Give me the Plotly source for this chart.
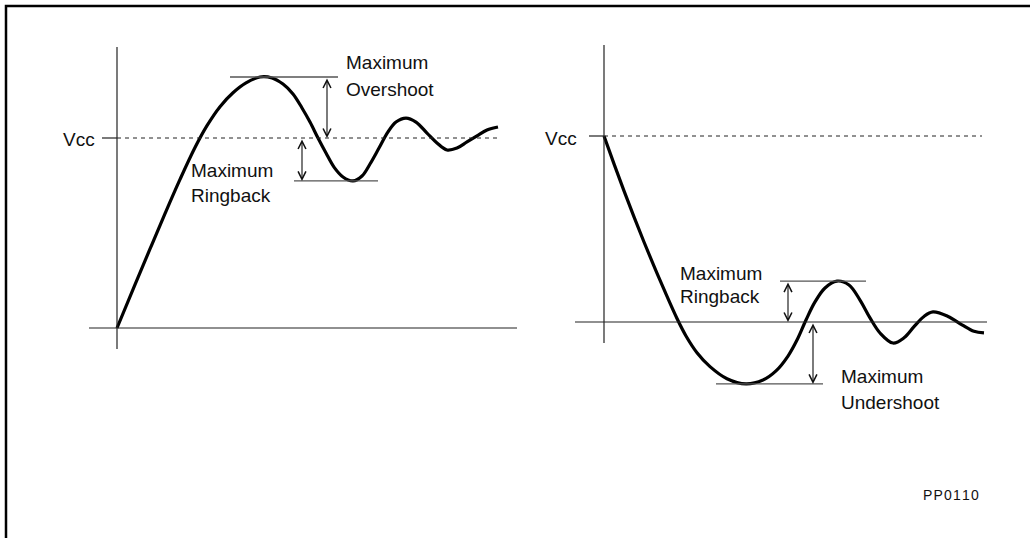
import plotly.graph_objects as go

W, H = 1030, 538

# ---------------- data (time in arbitrary units, voltage in % of Vcc) ----------------
# Left panel: rising edge with overshoot and ringback
rise_t = [0, 1.8, 3.3, 4.8, 6.3, 7.8, 9.0, 10.3, 11.6, 12.9, 14.3, 15.5, 16.6, 17.6,
          18.5, 19.3, 20.1, 20.9, 21.7, 22.6, 23.6, 24.5, 25.3, 26.2, 27.1, 27.9,
          28.9, 29.9, 31.0, 32.0, 33.0, 34.0, 35.0, 36.0, 37.0, 38.1]
rise_v = [0, 22.8, 41.6, 60.2, 78.2, 95.0, 106.5, 116.5, 123.8, 129.0, 132.1, 131.6,
          128.4, 123.2, 115.8, 108.4, 100.0, 92.1, 84.7, 79.5, 77.4, 80.0, 86.3, 94.7,
          103.2, 108.4, 110.5, 108.4, 102.6, 97.4, 93.7, 94.7, 97.9, 101.1, 104.2, 105.8]

# Right panel: falling edge with undershoot and ringback
fall_t = [0, 1.0, 2.0, 3.0, 4.0, 5.0, 6.0, 7.3, 8.2, 9.3, 10.6, 12.3, 14.2,
          15.9, 17.2, 18.4, 19.3, 20.2, 21.1, 22.1, 23.3, 24.5, 25.6, 26.6, 27.6,
          28.9, 30.0, 31.0, 32.0, 32.9, 34.4, 35.8, 37.0, 38.0]
fall_v = [100, 85.0, 70.5, 56.5, 43.0, 30.0, 17.5, 1.9, -7.5, -16.5, -24.0, -30.5,
          -33.3, -31.2, -26.3, -18.3, -9.7, 1.1, 10.8, 18.3, 22.0, 19.9, 11.8,
          2.2, -5.9, -11.3, -8.5, -2.5, 3.0, 5.4, 3.0, -1.5, -5.0, -5.9]

vcc_label = "Vcc"
left_labels = [("Maximum", "Overshoot"), ("Maximum", "Ringback")]
right_labels = [("Maximum", "Ringback"), ("Maximum", "Undershoot")]
figure_id = "PP0110"

VCC = 100.0

# ---------------- axis mapping (each panel overlays the full page) ----------------
L_X0, L_SX, L_Y0, L_SY = 117, 10, 328, 1.9   # px origin, px per time unit, py origin, px per %
R_X0, R_SX, R_Y0, R_SY = 604, 10, 322, 1.86


def xr(x0, sx):
    return [-x0 / sx, (W - x0) / sx]


def yr(y0, sy):
    return [(y0 - H) / sy, y0 / sy]


def px(x):
    return x / W


def py(y):
    return 1 - y / H


fig = go.Figure()
fig.add_trace(go.Scatter(x=rise_t, y=rise_v, mode="lines",
                         line=dict(color="black", width=3.2, shape="spline", smoothing=1.0),
                         xaxis="x", yaxis="y", hoverinfo="skip", showlegend=False))
fig.add_trace(go.Scatter(x=fall_t, y=fall_v, mode="lines",
                         line=dict(color="black", width=3.2, shape="spline", smoothing=1.0),
                         xaxis="x2", yaxis="y2", hoverinfo="skip", showlegend=False))

ax_common = dict(visible=False, domain=[0, 1], fixedrange=True)
fig.update_layout(
    width=W, height=H,
    margin=dict(l=0, r=0, t=0, b=0),
    paper_bgcolor="white", plot_bgcolor="rgba(0,0,0,0)",
    xaxis=dict(range=xr(L_X0, L_SX), **ax_common),
    yaxis=dict(range=yr(L_Y0, L_SY), **ax_common),
    xaxis2=dict(range=xr(R_X0, R_SX), overlaying="x", anchor="y2", **ax_common),
    yaxis2=dict(range=yr(R_Y0, R_SY), overlaying="y", anchor="x2", **ax_common),
    font=dict(family="Liberation Sans, Arial, sans-serif", color="black"),
    showlegend=False,
)

shapes = []
AX = dict(color="#222222", width=1.2)
REF = dict(color="#555555", width=1.3)
DASH = dict(color="#222222", width=1, dash="4px,4px")

# ---- left panel frame ----
lx = lambda p: (p - L_X0) / L_SX
ly = lambda p: (L_Y0 - p) / L_SY
shapes.append(dict(type="line", xref="x", yref="y", x0=0, x1=0, y0=ly(47), y1=ly(349), line=AX))
shapes.append(dict(type="line", xref="x", yref="y", x0=lx(89), x1=lx(517), y0=0, y1=0, line=AX))
shapes.append(dict(type="line", xref="x", yref="y", x0=lx(102), x1=0, y0=VCC, y1=VCC, line=AX))
shapes.append(dict(type="line", xref="x", yref="y", x0=0, x1=lx(497), y0=VCC, y1=VCC, line=DASH))
ip = rise_v.index(max(rise_v))
peak = rise_v[ip]
trough = min(rise_v[ip:])
shapes.append(dict(type="line", xref="x", yref="y", x0=lx(230), x1=lx(338), y0=peak, y1=peak, line=REF))
shapes.append(dict(type="line", xref="x", yref="y", x0=lx(294), x1=lx(378), y0=trough, y1=trough, line=REF))

# ---- right panel frame ----
rx = lambda p: (p - R_X0) / R_SX
ry = lambda p: (R_Y0 - p) / R_SY
shapes.append(dict(type="line", xref="x2", yref="y2", x0=0, x1=0, y0=ry(45), y1=ry(343), line=AX))
shapes.append(dict(type="line", xref="x2", yref="y2", x0=rx(575), x1=rx(987), y0=0, y1=0, line=AX))
shapes.append(dict(type="line", xref="x2", yref="y2", x0=rx(589), x1=0, y0=VCC, y1=VCC, line=AX))
shapes.append(dict(type="line", xref="x2", yref="y2", x0=0, x1=rx(982), y0=VCC, y1=VCC, line=DASH))
iu = fall_v.index(min(fall_v))
under = fall_v[iu]
ring = max(fall_v[iu:])
shapes.append(dict(type="line", xref="x2", yref="y2", x0=rx(780), x1=rx(866), y0=ring, y1=ring, line=REF))
shapes.append(dict(type="line", xref="x2", yref="y2", x0=rx(716), x1=rx(823), y0=under, y1=under, line=REF))

# ---- page border (left + top) ----
shapes.append(dict(type="path", xref="paper", yref="paper",
                   path=f"M {px(6)},{py(540)} L {px(6)},{py(6)} L {px(1032)},{py(6)}",
                   line=dict(color="black", width=2.5)))

annotations = []


def darrow(xref, yref, x, ya, yb):
    annotations.append(dict(xref=xref, yref=yref, axref=xref, ayref=yref,
                            x=x, y=yb, ax=x, ay=ya, text="", showarrow=True,
                            arrowhead=5, startarrowhead=5, arrowside="end+start",
                            arrowsize=1.4, startarrowsize=1.4, arrowwidth=1.1,
                            arrowcolor="#111111", standoff=0, startstandoff=0))


darrow("x", "y", lx(327), peak, VCC)
darrow("x", "y", lx(302), VCC, trough)
darrow("x2", "y2", rx(788), ring, 0)
darrow("x2", "y2", rx(813), 0, under)

FS = 19


def label(text, x, y, size=FS, anchor="left"):
    annotations.append(dict(xref="paper", yref="paper", x=px(x), y=py(y), text=text,
                            showarrow=False, xanchor=anchor, yanchor="middle",
                            font=dict(size=size, color="#111111")))


label(left_labels[0][0], 344, 63)
label(left_labels[0][1], 344, 89)
label(left_labels[1][0], 189, 170)
label(left_labels[1][1], 189, 195)
label(right_labels[0][0], 678, 273)
label(right_labels[0][1], 678, 297)
label(right_labels[1][0], 839, 376)
label(right_labels[1][1], 839, 402)
label(vcc_label, 97, 139, anchor="right")
label(vcc_label, 579, 138, anchor="right")
label("\u200a".join(figure_id), 981, 495, size=14, anchor="right")

fig.update_layout(shapes=shapes, annotations=annotations)
fig.write_html("out.html", config={"displayModeBar": False, "staticPlot": True},
               post_script="document.body.style.margin='0';document.body.style.overflow='hidden';")
